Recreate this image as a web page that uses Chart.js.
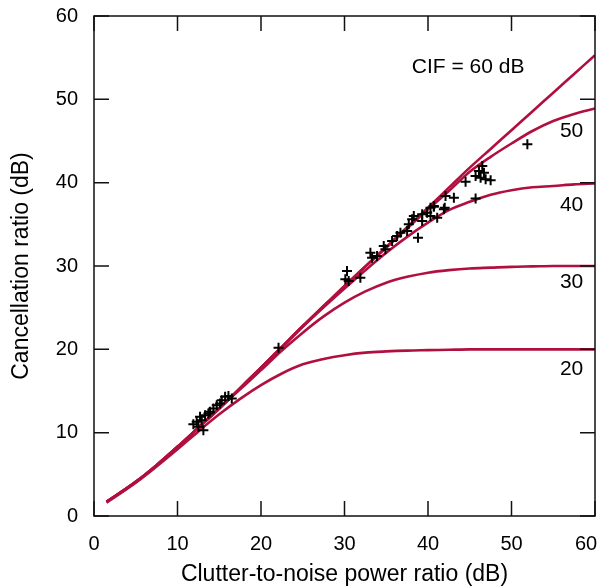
<!DOCTYPE html>
<html>
<head>
<meta charset="utf-8">
<script src="https://cdn.jsdelivr.net/npm/chart.js@4/dist/chart.umd.min.js"></script>
<style>
  html, body { margin: 0; padding: 0; background: #fff; }
  canvas { display: block; }
</style>
</head>
<body>
<canvas id="chart" width="602" height="588"></canvas>
<script>
// Clutter-to-noise ratio (dB) where the curves are sampled
const cnr = [1.5, 5, 7.5, 10, 12.5, 15, 17.5, 20, 22.5, 25, 27.5, 30, 32.5, 35, 37.5, 40, 42.5, 45, 47.5, 50, 52.5, 55, 57.5, 60];

// Cancellation ratio (dB) for each clutter improvement factor
const cif60 = [1.7, 4.1, 6.1, 8.3, 10.6, 12.9, 15.35, 17.8, 20.3, 22.8, 25.2, 27.6, 29.95, 32.3, 34.65, 37.0, 39.4, 41.8, 44.05, 46.3, 48.55, 50.8, 53.05, 55.3];
const cif50 = [1.7, 4.1, 6.1, 8.3, 10.6, 12.9, 15.35, 17.8, 20.3, 22.8, 25.2, 27.6, 29.95, 32.2, 34.5, 36.8, 39.0, 41.3, 43.1, 44.7, 46.2, 47.4, 48.25, 48.9];
const cif40 = [1.7, 4.1, 6.1, 8.3, 10.6, 12.9, 15.35, 17.8, 20.2, 22.7, 25.05, 27.3, 29.5, 31.6, 33.5, 35.2, 36.7, 37.7, 38.55, 39.1, 39.45, 39.6, 39.8, 39.9];
const cif30 = [1.7, 4.1, 6.1, 8.3, 10.6, 12.9, 15.2, 17.5, 19.85, 22.0, 23.95, 25.6, 26.95, 28.0, 28.7, 29.2, 29.5, 29.7, 29.8, 29.9, 29.95, 30.0, 30.0, 30.0];
const cif20 = [1.6, 4.0, 5.95, 8.0, 10.15, 12.2, 14.05, 15.7, 17.1, 18.2, 18.85, 19.3, 19.6, 19.75, 19.85, 19.9, 19.95, 20.0, 20.0, 20.0, 20.0, 20.0, 20.0, 20.0];

// Measured points
const measX = [11.9, 12.5, 12.9, 13.3, 13.9, 14.3, 14.7, 15.3, 15.7, 16.1, 16.5, 15.1, 12.7, 13.7, 12.3, 13.1,
  22.1,
  30.3, 30.1, 30.5, 31.9, 33.1, 33.3, 34.7, 34.9, 35.7, 36.3, 36.7, 37.5, 38.1, 38.3, 38.8, 39.3, 39.9, 40.3,
  40.7, 41.9, 37.7, 39.3, 40.3, 41.1, 33.9,
  51.9, 44.5, 46.5, 46.1, 45.7, 46.3, 46.9, 47.5, 46.7, 45.7, 43.1, 42.1, 40.7, 42.0];
const measY = [11.0, 10.7, 11.5, 12.1, 12.5, 12.9, 13.3, 13.9, 14.3, 14.4, 14.1, 13.5, 11.9, 12.3, 11.3, 10.3,
  20.2,
  29.4, 28.4, 28.2, 28.6, 31.6, 31.0, 32.4, 32.0, 33.0, 33.6, 34.0, 34.2, 35.6, 36.0, 33.4, 36.2, 36.4, 36.0,
  37.2, 36.8, 35.0, 35.4, 37.0, 35.8, 31.2,
  44.6, 40.1, 42.0, 41.4, 40.8, 40.6, 40.4, 40.3, 41.2, 38.1, 38.2, 38.4, 37.1, 37.0];

// Curve labels
const labelText = ['CIF = 60 dB', '50', '40', '30', '20'];
const labelX = [44.8, 57.2, 57.2, 57.2, 57.2];
const labelY = [53.9, 46.2, 37.3, 28.0, 17.6];

const ticks = [0, 10, 20, 30, 40, 50, 60];
const red = '#b0103f';
const font = 'Liberation Sans, Arial, sans-serif';

function curve(values) {
  return {
    type: 'line',
    data: cnr.map((x, i) => ({ x: x, y: values[i] })),
    borderColor: red,
    borderWidth: 2.6,
    pointRadius: 0,
    cubicInterpolationMode: 'monotone',
    fill: false
  };
}

// frame, inward ticks and curve labels
const framePlugin = {
  id: 'frame',
  beforeDraw(chart) {
    // keep the last x label inside the canvas
    const items = chart.scales.x.getLabelItems();
    const last = items[items.length - 1];
    if (last && !last.shifted) {
      last.options.translation[0] -= 9;
      last.shifted = true;
    }
  },
  afterDatasetsDraw(chart) {
    const ctx = chart.ctx;
    const a = chart.chartArea;
    const xs = chart.scales.x;
    const ys = chart.scales.y;
    const len = 15;
    ctx.save();
    ctx.strokeStyle = '#111';
    ctx.lineWidth = 1.5;
    ctx.strokeRect(a.left, a.top, a.right - a.left, a.bottom - a.top);
    ctx.beginPath();
    ticks.forEach(t => {
      const px = xs.getPixelForValue(t);
      ctx.moveTo(px, a.bottom); ctx.lineTo(px, a.bottom - len);
      ctx.moveTo(px, a.top); ctx.lineTo(px, a.top + len);
      const py = ys.getPixelForValue(t);
      ctx.moveTo(a.left, py); ctx.lineTo(a.left + len, py);
      ctx.moveTo(a.right, py); ctx.lineTo(a.right - len, py);
    });
    ctx.stroke();

    ctx.fillStyle = '#000';
    ctx.font = '21px ' + font;
    ctx.textAlign = 'center';
    ctx.textBaseline = 'middle';
    labelText.forEach((txt, i) => {
      ctx.fillText(txt, xs.getPixelForValue(labelX[i]), ys.getPixelForValue(labelY[i]));
    });
    ctx.restore();
  }
};

new Chart(document.getElementById('chart'), {
  data: {
    datasets: [
      {
        type: 'scatter',
        data: measX.map((x, i) => ({ x: x, y: measY[i] })),
        pointStyle: 'cross',
        pointRadius: 5,
        borderWidth: 2,
        borderColor: '#000',
        backgroundColor: '#000'
      },
      curve(cif60),
      curve(cif50),
      curve(cif40),
      curve(cif30),
      curve(cif20)
    ]
  },
  options: {
    responsive: false,
    animation: false,
    layout: { padding: { top: 16, right: 7, left: 0, bottom: 0 } },
    plugins: {
      legend: { display: false },
      tooltip: { enabled: false }
    },
    scales: {
      x: {
        type: 'linear',
        min: 0,
        max: 60,
        afterFit: s => { s.height = 72; s.paddingLeft = 0; s.paddingRight = 0; },
        grid: { display: false, drawTicks: false },
        border: { display: false },
        ticks: {
          stepSize: 10,
          padding: 16,
          color: '#000',
          font: { family: font, size: 20 }
        },
        title: {
          display: true,
          text: 'Clutter-to-noise power ratio (dB)',
          color: '#000',
          padding: { top: 0, bottom: 0 },
          font: { family: font, size: 23 }
        }
      },
      y: {
        type: 'linear',
        min: 0,
        max: 60,
        afterFit: s => { s.width = 94; s.paddingTop = 0; s.paddingBottom = 0; },
        grid: { display: false, drawTicks: false },
        border: { display: false },
        ticks: {
          stepSize: 10,
          padding: 16,
          color: '#000',
          font: { family: font, size: 20 }
        },
        title: {
          display: true,
          text: 'Cancellation ratio (dB)',
          color: '#000',
          padding: { top: 8, bottom: 0 },
          font: { family: font, size: 23 }
        }
      }
    }
  },
  plugins: [framePlugin]
});
</script>
</body>
</html>
